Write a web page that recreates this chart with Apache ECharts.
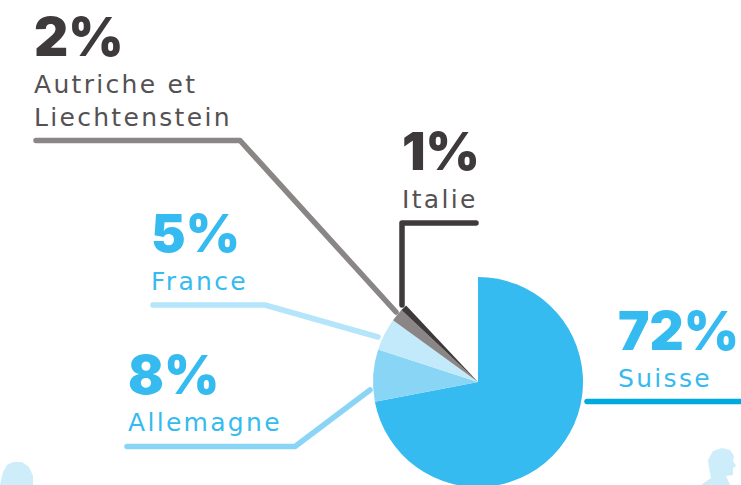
<!DOCTYPE html>
<html>
<head>
<meta charset="utf-8">
<style>
html,body{margin:0;padding:0;background:#fff}
#main{width:741px;height:485px;letter-spacing:2.3px}
#main text[style*="900"]{letter-spacing:0}
</style>
<script src="https://cdn.jsdelivr.net/npm/echarts@6/dist/echarts.min.js"></script>
</head>
<body>
<div id="main"></div>
<script>
// part de chaque pays, le reste du cercle (12 %) n'est pas dessine
var countries = ['Suisse', 'Allemagne', 'France', 'Autriche et\nLiechtenstein', 'Italie', 'Autres'];
var shares = [72, 8, 5, 2, 1, 12];
var sliceColors = ['#35BBEF', '#88D5F5', '#C3EAFA', '#8A8686', '#3E3A3B', 'transparent'];

var BOLD_FONT = 'Inter, "Open Sans", sans-serif';
var NAME_FONT = '"DejaVu Sans", Inter, sans-serif';

// bloc texte : pourcentage + nom du pays
function labelBlock (i, x, y, size, color, nameColor) {
  return [
    {
      type: 'text',
      x: x,
      y: y - 1,
      style: { text: shares[i] + '%', fill: color, font: '900 ' + size + 'px ' + BOLD_FONT, textVerticalAlign: 'top' }
    },
    {
      type: 'text',
      x: x,
      y: y + 57,
      style: { text: countries[i], fill: nameColor, font: '400 25px ' + NAME_FONT, lineHeight: 33, textVerticalAlign: 'top' }
    }
  ];
}

// trait de rappel
function leader (points, color) {
  return {
    type: 'polyline',
    shape: { points: points },
    style: { stroke: color, lineWidth: 5.5, fill: null, lineCap: 'round', lineJoin: 'round' }
  };
}

// silhouette decorative
function silhouette (points) {
  return {
    type: 'polygon',
    shape: { points: points },
    style: { fill: '#CDEDFA' }
  };
}

var chart = echarts.init(document.getElementById('main'), null, { renderer: 'svg' });
chart.setOption({
  animation: false,
  series: [
    {
      type: 'pie',
      center: [478, 382],
      radius: [0, 105],
      startAngle: 90,
      clockwise: true,
      silent: true,
      label: { show: false },
      labelLine: { show: false },
      data: countries.map(function (name, i) {
        return { name: name, value: shares[i], itemStyle: { color: sliceColors[i] } };
      })
    }
  ],
  graphic: [
    silhouette([[0, 485], [3, 472], [7, 465], [13, 462], [22, 462], [29, 467], [33, 476], [33, 485]]),
    silhouette([[701, 485], [711, 478], [709, 468], [708, 460], [713, 451], [722, 448], [730, 450], [734, 456], [733, 461], [736, 466], [733, 468], [733, 475], [726, 476], [730, 485]]),
    leader([[36, 140.5], [240, 140.5], [396, 312]], '#8A8686'),
    leader([[476, 223], [402, 223], [402, 305]], '#3E3A3B'),
    leader([[153, 305], [265, 305], [378, 337]], '#B4E5FA'),
    leader([[127, 446.5], [295, 446.5], [370, 390]], '#8AD5F5'),
    leader([[587, 401.5], [745, 401.5]], '#00A9DE')
  ].concat(
    labelBlock(3, 34, 11, 53, '#3E3A3B', '#555152'),
    labelBlock(4, 402, 126, 52, '#3E3A3B', '#555152'),
    labelBlock(2, 151, 208, 52, '#35BBEF', '#35BBEF'),
    labelBlock(1, 128, 349, 53, '#35BBEF', '#35BBEF'),
    labelBlock(0, 618, 305, 53, '#35BBEF', '#35BBEF')
  )
});
</script>
</body>
</html>
